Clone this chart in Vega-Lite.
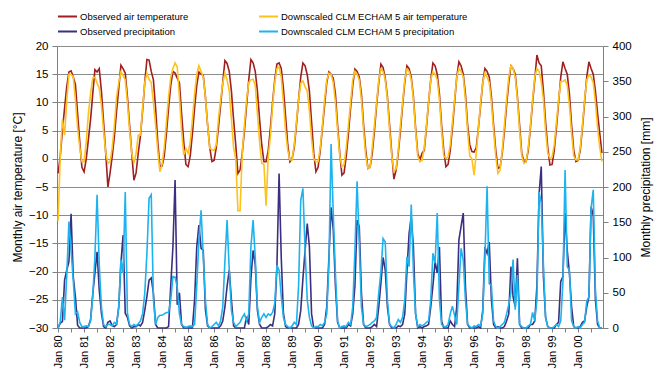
{
  "$schema": "https://vega.github.io/schema/vega-lite/v6.json",
  "width": 546,
  "height": 282,
  "autosize": {"type": "none"},
  "padding": {"left": 57, "top": 46, "right": 60, "bottom": 44},
  "background": "white",
  "config": {
    "font": "Liberation Sans",
    "view": {"stroke": null},
    "axis": {"labelColor": "#000000", "titleColor": "#000000", "titleFontWeight": "normal", "domainColor": "#808080", "tickColor": "#808080", "labelFont": "Liberation Sans", "titleFont": "Liberation Sans"},
    "legend": {"orient": "none", "legendX": 0, "legendY": -40, "direction": "horizontal", "columns": 2, "columnPadding": 66, "rowPadding": -5, "symbolType": "stroke", "symbolSize": 361, "symbolStrokeWidth": 2, "labelFontSize": 9.5, "labelOffset": 2, "labelLimit": 400, "labelFont": "Liberation Sans", "labelColor": "#000000", "title": null, "padding": 0}
  },
  "data": {"values": [
{"m":"Jan 80","ot":-2.6,"dt":-11,"op":0,"dp":0},{"m":"Feb 80","ot":0.5,"dt":0.5,"op":7,"dp":9},{"m":"Mar 80","ot":5,"dt":7,"op":9,"dp":44},{"m":"Apr 80","ot":9,"dt":4.2,"op":68,"dp":11},{"m":"May 80","ot":12.8,"dt":10.4,"op":82,"dp":75},{"m":"Jun 80","ot":15.4,"dt":15,"op":94,"dp":151},{"m":"Jul 80","ot":15.6,"dt":15,"op":162,"dp":110},{"m":"Aug 80","ot":14.5,"dt":14.5,"op":73,"dp":68},{"m":"Sep 80","ot":13.2,"dt":10.5,"op":44,"dp":20},{"m":"Oct 80","ot":8,"dt":5.5,"op":4,"dp":23},{"m":"Nov 80","ot":3,"dt":2,"op":0,"dp":8},{"m":"Dec 80","ot":-1.5,"dt":-0.5,"op":0,"dp":2},
{"m":"Jan 81","ot":-2.3,"dt":-0.5,"op":0,"dp":2},{"m":"Feb 81","ot":0,"dt":3,"op":0,"dp":3},{"m":"Mar 81","ot":3.5,"dt":8,"op":2,"dp":2},{"m":"Apr 81","ot":7,"dt":11.6,"op":12,"dp":10},{"m":"May 81","ot":11.5,"dt":14.3,"op":48,"dp":45},{"m":"Jun 81","ot":15.8,"dt":14.5,"op":78,"dp":101},{"m":"Jul 81","ot":15.4,"dt":13.4,"op":108,"dp":189},{"m":"Aug 81","ot":16,"dt":12.5,"op":54,"dp":90},{"m":"Sep 81","ot":12,"dt":9.5,"op":21,"dp":30},{"m":"Oct 81","ot":6.5,"dt":5,"op":2,"dp":5},{"m":"Nov 81","ot":1,"dt":1,"op":0,"dp":2},{"m":"Dec 81","ot":-5,"dt":-0.8,"op":8,"dp":5},
{"m":"Jan 82","ot":-2.5,"dt":-0.5,"op":10,"dp":5},{"m":"Feb 82","ot":0.5,"dt":2,"op":3,"dp":3},{"m":"Mar 82","ot":4,"dt":6,"op":2,"dp":8},{"m":"Apr 82","ot":8.5,"dt":11,"op":5,"dp":6},{"m":"May 82","ot":12.5,"dt":13.5,"op":30,"dp":30},{"m":"Jun 82","ot":16.6,"dt":15.4,"op":92,"dp":97},{"m":"Jul 82","ot":16,"dt":14.8,"op":132,"dp":78},{"m":"Aug 82","ot":15.2,"dt":14,"op":21,"dp":193},{"m":"Sep 82","ot":11,"dt":10,"op":15,"dp":21},{"m":"Oct 82","ot":6,"dt":5,"op":3,"dp":5},{"m":"Nov 82","ot":1,"dt":1,"op":0,"dp":2},{"m":"Dec 82","ot":-3.8,"dt":-0.8,"op":2,"dp":5},
{"m":"Jan 83","ot":-2.5,"dt":1,"op":2,"dp":3},{"m":"Feb 83","ot":1,"dt":4.2,"op":5,"dp":6},{"m":"Mar 83","ot":4,"dt":4.2,"op":3,"dp":10},{"m":"Apr 83","ot":8.5,"dt":9,"op":8,"dp":20},{"m":"May 83","ot":13.5,"dt":13.5,"op":25,"dp":49},{"m":"Jun 83","ot":17.6,"dt":15.2,"op":45,"dp":106},{"m":"Jul 83","ot":17.5,"dt":14.1,"op":68,"dp":184},{"m":"Aug 83","ot":15.5,"dt":13.5,"op":71,"dp":189},{"m":"Sep 83","ot":14,"dt":10,"op":49,"dp":40},{"m":"Oct 83","ot":9,"dt":6,"op":5,"dp":5},{"m":"Nov 83","ot":3,"dt":1.5,"op":0,"dp":15},{"m":"Dec 83","ot":-1.4,"dt":-2.3,"op":0,"dp":18},
{"m":"Jan 84","ot":-1.3,"dt":-1,"op":0,"dp":18},{"m":"Feb 84","ot":0.5,"dt":2,"op":0,"dp":20},{"m":"Mar 84","ot":4.5,"dt":6.5,"op":0,"dp":22},{"m":"Apr 84","ot":9,"dt":11,"op":2,"dp":22},{"m":"May 84","ot":13,"dt":14.5,"op":60,"dp":40},{"m":"Jun 84","ot":15.5,"dt":16,"op":115,"dp":73},{"m":"Jul 84","ot":15.2,"dt":17,"op":210,"dp":72},{"m":"Aug 84","ot":14.3,"dt":16.3,"op":33,"dp":58},{"m":"Sep 84","ot":13.5,"dt":11,"op":50,"dp":20},{"m":"Oct 84","ot":8,"dt":5,"op":5,"dp":5},{"m":"Nov 84","ot":3,"dt":0.7,"op":0,"dp":2},{"m":"Dec 84","ot":-1,"dt":1.8,"op":0,"dp":1},
{"m":"Jan 85","ot":-1.4,"dt":1,"op":0,"dp":2},{"m":"Feb 85","ot":0.5,"dt":3,"op":0,"dp":3},{"m":"Mar 85","ot":4.5,"dt":7,"op":0,"dp":2},{"m":"Apr 85","ot":9,"dt":11.5,"op":40,"dp":5},{"m":"May 85","ot":13,"dt":15,"op":115,"dp":60},{"m":"Jun 85","ot":15.4,"dt":16.5,"op":146,"dp":125},{"m":"Jul 85","ot":15,"dt":15.5,"op":113,"dp":167},{"m":"Aug 85","ot":14.8,"dt":14.5,"op":110,"dp":101},{"m":"Sep 85","ot":11,"dt":11,"op":26,"dp":40},{"m":"Oct 85","ot":6,"dt":6,"op":3,"dp":5},{"m":"Nov 85","ot":2,"dt":1.9,"op":0,"dp":0},{"m":"Dec 85","ot":-0.5,"dt":1.6,"op":0,"dp":2},
{"m":"Jan 86","ot":-0.3,"dt":1.5,"op":0,"dp":5},{"m":"Feb 86","ot":2,"dt":2.5,"op":0,"dp":8},{"m":"Mar 86","ot":5.5,"dt":7,"op":0,"dp":3},{"m":"Apr 86","ot":9.5,"dt":10.4,"op":3,"dp":10},{"m":"May 86","ot":13.5,"dt":13.4,"op":10,"dp":30},{"m":"Jun 86","ot":17.4,"dt":15.2,"op":30,"dp":95},{"m":"Jul 86","ot":16.9,"dt":14,"op":59,"dp":153},{"m":"Aug 86","ot":15.5,"dt":12,"op":82,"dp":82},{"m":"Sep 86","ot":12,"dt":7,"op":40,"dp":25},{"m":"Oct 86","ot":7,"dt":2,"op":3,"dp":8},{"m":"Nov 86","ot":2.5,"dt":0,"op":0,"dp":2},{"m":"Dec 86","ot":-2.6,"dt":-9.2,"op":0,"dp":5},
{"m":"Jan 87","ot":-2,"dt":-9.2,"op":0,"dp":8},{"m":"Feb 87","ot":1,"dt":1,"op":0,"dp":15},{"m":"Mar 87","ot":5,"dt":6,"op":0,"dp":20},{"m":"Apr 87","ot":9.5,"dt":10.5,"op":16,"dp":10},{"m":"May 87","ot":14,"dt":13.5,"op":5,"dp":20},{"m":"Jun 87","ot":17.6,"dt":14,"op":70,"dp":115},{"m":"Jul 87","ot":17,"dt":14.1,"op":110,"dp":153},{"m":"Aug 87","ot":15.5,"dt":13,"op":90,"dp":100},{"m":"Sep 87","ot":12,"dt":8,"op":25,"dp":30},{"m":"Oct 87","ot":7,"dt":3,"op":5,"dp":8},{"m":"Nov 87","ot":2.5,"dt":-0.8,"op":0,"dp":15},{"m":"Dec 87","ot":-0.5,"dt":-1,"op":0,"dp":20},
{"m":"Jan 88","ot":-0.5,"dt":-8.3,"op":0,"dp":15},{"m":"Feb 88","ot":1.5,"dt":0.5,"op":2,"dp":20},{"m":"Mar 88","ot":5.5,"dt":4,"op":5,"dp":18},{"m":"Apr 88","ot":10,"dt":9.5,"op":3,"dp":22},{"m":"May 88","ot":14,"dt":13.5,"op":20,"dp":35},{"m":"Jun 88","ot":16.8,"dt":16,"op":87,"dp":89},{"m":"Jul 88","ot":17,"dt":16.3,"op":219,"dp":82},{"m":"Aug 88","ot":16,"dt":14.5,"op":100,"dp":45},{"m":"Sep 88","ot":12.5,"dt":10,"op":21,"dp":15},{"m":"Oct 88","ot":7.5,"dt":5,"op":2,"dp":5},{"m":"Nov 88","ot":2.5,"dt":1.5,"op":0,"dp":2},{"m":"Dec 88","ot":-0.5,"dt":-0.2,"op":0,"dp":0},
{"m":"Jan 89","ot":0,"dt":-0.2,"op":0,"dp":3},{"m":"Feb 89","ot":2,"dt":2.5,"op":0,"dp":8},{"m":"Mar 89","ot":6,"dt":6.5,"op":0,"dp":5},{"m":"Apr 89","ot":10.5,"dt":10.5,"op":5,"dp":60},{"m":"May 89","ot":14.5,"dt":13.4,"op":25,"dp":181},{"m":"Jun 89","ot":17,"dt":13.8,"op":70,"dp":198},{"m":"Jul 89","ot":16.5,"dt":12.8,"op":110,"dp":110},{"m":"Aug 89","ot":14.9,"dt":12,"op":148,"dp":40},{"m":"Sep 89","ot":12,"dt":8.5,"op":115,"dp":15},{"m":"Oct 89","ot":6.5,"dt":3.5,"op":20,"dp":3},{"m":"Nov 89","ot":1,"dt":0,"op":0,"dp":0},{"m":"Dec 89","ot":-2.3,"dt":-0.5,"op":0,"dp":2},
{"m":"Jan 90","ot":-1.5,"dt":-0.5,"op":0,"dp":2},{"m":"Feb 90","ot":1.5,"dt":2,"op":0,"dp":5},{"m":"Mar 90","ot":5.5,"dt":6,"op":0,"dp":3},{"m":"Apr 90","ot":9.5,"dt":10.5,"op":5,"dp":8},{"m":"May 90","ot":13.5,"dt":14,"op":30,"dp":20},{"m":"Jun 90","ot":15.4,"dt":15.2,"op":100,"dp":90},{"m":"Jul 90","ot":15,"dt":15,"op":171,"dp":261},{"m":"Aug 90","ot":14.3,"dt":13.5,"op":140,"dp":163},{"m":"Sep 90","ot":11.5,"dt":10,"op":60,"dp":78},{"m":"Oct 90","ot":6,"dt":5,"op":8,"dp":10},{"m":"Nov 90","ot":1,"dt":0.5,"op":0,"dp":0},{"m":"Dec 90","ot":-2.9,"dt":-1.4,"op":0,"dp":2},
{"m":"Jan 91","ot":-2.5,"dt":-1,"op":0,"dp":3},{"m":"Feb 91","ot":0.5,"dt":2,"op":0,"dp":2},{"m":"Mar 91","ot":4.5,"dt":6,"op":5,"dp":8},{"m":"Apr 91","ot":9,"dt":10,"op":3,"dp":5},{"m":"May 91","ot":13,"dt":14,"op":20,"dp":30},{"m":"Jun 91","ot":15.9,"dt":15.5,"op":60,"dp":110},{"m":"Jul 91","ot":15.5,"dt":15,"op":153,"dp":208},{"m":"Aug 91","ot":14.5,"dt":14,"op":144,"dp":120},{"m":"Sep 91","ot":11.5,"dt":10.5,"op":50,"dp":30},{"m":"Oct 91","ot":6,"dt":5,"op":5,"dp":5},{"m":"Nov 91","ot":1.5,"dt":0.5,"op":0,"dp":2},{"m":"Dec 91","ot":-1.7,"dt":-1.7,"op":0,"dp":3},
{"m":"Jan 92","ot":-1.5,"dt":-1.5,"op":0,"dp":5},{"m":"Feb 92","ot":1,"dt":2,"op":2,"dp":8},{"m":"Mar 92","ot":5,"dt":6,"op":5,"dp":10},{"m":"Apr 92","ot":9.5,"dt":10,"op":2,"dp":15},{"m":"May 92","ot":13.5,"dt":14,"op":30,"dp":50},{"m":"Jun 92","ot":16.8,"dt":15.9,"op":64,"dp":80},{"m":"Jul 92","ot":16.2,"dt":15.5,"op":100,"dp":127},{"m":"Aug 92","ot":14.3,"dt":14,"op":82,"dp":122},{"m":"Sep 92","ot":11,"dt":10.5,"op":30,"dp":40},{"m":"Oct 92","ot":6,"dt":5,"op":5,"dp":5},{"m":"Nov 92","ot":1,"dt":0.5,"op":0,"dp":2},{"m":"Dec 92","ot":-3.6,"dt":-2.3,"op":0,"dp":0},
{"m":"Jan 93","ot":-2,"dt":-1.8,"op":0,"dp":5},{"m":"Feb 93","ot":1,"dt":1.5,"op":3,"dp":12},{"m":"Mar 93","ot":5,"dt":6,"op":2,"dp":8},{"m":"Apr 93","ot":9.5,"dt":10,"op":5,"dp":15},{"m":"May 93","ot":13.5,"dt":14,"op":20,"dp":40},{"m":"Jun 93","ot":16.5,"dt":15.9,"op":80,"dp":101},{"m":"Jul 93","ot":16,"dt":15.5,"op":134,"dp":87},{"m":"Aug 93","ot":14.5,"dt":14,"op":158,"dp":175},{"m":"Sep 93","ot":11,"dt":10.5,"op":115,"dp":80},{"m":"Oct 93","ot":5.5,"dt":5,"op":20,"dp":20},{"m":"Nov 93","ot":1,"dt":0.5,"op":0,"dp":2},{"m":"Dec 93","ot":-0.2,"dt":-0.5,"op":2,"dp":5},
{"m":"Jan 94","ot":1,"dt":-0.3,"op":0,"dp":3},{"m":"Feb 94","ot":1.5,"dt":2,"op":2,"dp":5},{"m":"Mar 94","ot":5.5,"dt":6,"op":3,"dp":8},{"m":"Apr 94","ot":10,"dt":10,"op":5,"dp":10},{"m":"May 94","ot":14,"dt":14,"op":30,"dp":40},{"m":"Jun 94","ot":17,"dt":15.4,"op":60,"dp":106},{"m":"Jul 94","ot":16.5,"dt":15,"op":94,"dp":92},{"m":"Aug 94","ot":15,"dt":14,"op":78,"dp":163},{"m":"Sep 94","ot":11.5,"dt":10.5,"op":115,"dp":40},{"m":"Oct 94","ot":6,"dt":5,"op":10,"dp":5},{"m":"Nov 94","ot":1.5,"dt":0.5,"op":0,"dp":2},{"m":"Dec 94","ot":-1.4,"dt":0.1,"op":0,"dp":2},
{"m":"Jan 95","ot":-1,"dt":0.3,"op":0,"dp":5},{"m":"Feb 95","ot":1.5,"dt":2.5,"op":10,"dp":20},{"m":"Mar 95","ot":5.5,"dt":6.5,"op":5,"dp":31},{"m":"Apr 95","ot":10,"dt":10.5,"op":2,"dp":18},{"m":"May 95","ot":14.5,"dt":14.5,"op":30,"dp":5},{"m":"Jun 95","ot":17.2,"dt":16,"op":125,"dp":60},{"m":"Jul 95","ot":16.5,"dt":15.5,"op":144,"dp":113},{"m":"Aug 95","ot":15,"dt":14.5,"op":163,"dp":96},{"m":"Sep 95","ot":11.5,"dt":10.5,"op":60,"dp":40},{"m":"Oct 95","ot":6,"dt":5,"op":5,"dp":5},{"m":"Nov 95","ot":2.5,"dt":0.5,"op":0,"dp":2},{"m":"Dec 95","ot":1.3,"dt":0,"op":0,"dp":0},
{"m":"Jan 96","ot":1.2,"dt":-2.9,"op":0,"dp":3},{"m":"Feb 96","ot":2,"dt":1,"op":0,"dp":2},{"m":"Mar 96","ot":5.5,"dt":5.5,"op":2,"dp":5},{"m":"Apr 96","ot":9.5,"dt":10,"op":0,"dp":3},{"m":"May 96","ot":13.5,"dt":13.5,"op":25,"dp":20},{"m":"Jun 96","ot":16,"dt":15.2,"op":115,"dp":101},{"m":"Jul 96","ot":15.5,"dt":14.5,"op":106,"dp":201},{"m":"Aug 96","ot":14.5,"dt":13.5,"op":122,"dp":63},{"m":"Sep 96","ot":11,"dt":10,"op":40,"dp":60},{"m":"Oct 96","ot":6,"dt":5,"op":5,"dp":10},{"m":"Nov 96","ot":1.5,"dt":0.5,"op":0,"dp":2},{"m":"Dec 96","ot":-1.7,"dt":-2.6,"op":2,"dp":0},
{"m":"Jan 97","ot":-1.5,"dt":-2,"op":0,"dp":2},{"m":"Feb 97","ot":1,"dt":1.5,"op":0,"dp":5},{"m":"Mar 97","ot":5,"dt":6,"op":2,"dp":8},{"m":"Apr 97","ot":9.5,"dt":10.5,"op":10,"dp":20},{"m":"May 97","ot":13.5,"dt":14.5,"op":20,"dp":33},{"m":"Jun 97","ot":16.5,"dt":16.5,"op":87,"dp":50},{"m":"Jul 97","ot":16,"dt":16,"op":44,"dp":97},{"m":"Aug 97","ot":15,"dt":14.5,"op":30,"dp":26},{"m":"Sep 97","ot":11,"dt":10.5,"op":99,"dp":75},{"m":"Oct 97","ot":6,"dt":5,"op":5,"dp":5},{"m":"Nov 97","ot":1,"dt":0.5,"op":0,"dp":2},{"m":"Dec 97","ot":-0.5,"dt":-0.8,"op":0,"dp":0},
{"m":"Jan 98","ot":-0.5,"dt":-0.5,"op":0,"dp":0},{"m":"Feb 98","ot":1.5,"dt":2,"op":0,"dp":3},{"m":"Mar 98","ot":5.5,"dt":6,"op":5,"dp":5},{"m":"Apr 98","ot":10,"dt":10.5,"op":5,"dp":22},{"m":"May 98","ot":14,"dt":14.5,"op":10,"dp":10},{"m":"Jun 98","ot":18.4,"dt":16,"op":60,"dp":40},{"m":"Jul 98","ot":17,"dt":15.5,"op":190,"dp":193},{"m":"Aug 98","ot":16.5,"dt":13.7,"op":229,"dp":177},{"m":"Sep 98","ot":12,"dt":10.5,"op":73,"dp":90},{"m":"Oct 98","ot":6.5,"dt":5,"op":15,"dp":15},{"m":"Nov 98","ot":2,"dt":1,"op":2,"dp":2},{"m":"Dec 98","ot":-1.1,"dt":0.1,"op":0,"dp":0},
{"m":"Jan 99","ot":-1,"dt":0.3,"op":0,"dp":0},{"m":"Feb 99","ot":1.5,"dt":2.5,"op":0,"dp":2},{"m":"Mar 99","ot":5.5,"dt":6.5,"op":5,"dp":5},{"m":"Apr 99","ot":10,"dt":10.5,"op":8,"dp":2},{"m":"May 99","ot":14.5,"dt":13.7,"op":66,"dp":10},{"m":"Jun 99","ot":17.2,"dt":13.7,"op":73,"dp":65},{"m":"Jul 99","ot":16,"dt":14,"op":163,"dp":224},{"m":"Aug 99","ot":15,"dt":13,"op":110,"dp":87},{"m":"Sep 99","ot":11.5,"dt":9.5,"op":78,"dp":82},{"m":"Oct 99","ot":6,"dt":4.5,"op":30,"dp":10},{"m":"Nov 99","ot":1.5,"dt":0.5,"op":2,"dp":2},{"m":"Dec 99","ot":-0.5,"dt":-0.2,"op":0,"dp":0},
{"m":"Jan 00","ot":-0.3,"dt":-0.2,"op":0,"dp":2},{"m":"Feb 00","ot":1.5,"dt":2,"op":2,"dp":0},{"m":"Mar 00","ot":5.5,"dt":6,"op":8,"dp":5},{"m":"Apr 00","ot":10,"dt":10.5,"op":10,"dp":8},{"m":"May 00","ot":14.5,"dt":14,"op":30,"dp":38},{"m":"Jun 00","ot":17.2,"dt":14.9,"op":44,"dp":44},{"m":"Jul 00","ot":16,"dt":14.5,"op":172,"dp":170},{"m":"Aug 00","ot":15,"dt":13.5,"op":160,"dp":196},{"m":"Sep 00","ot":12,"dt":10,"op":40,"dp":54},{"m":"Oct 00","ot":8,"dt":5.5,"op":5,"dp":10},{"m":"Nov 00","ot":4.5,"dt":2,"op":0,"dp":0},{"m":"Dec 00","ot":1,"dt":-0.5,"op":0,"dp":0}
  ]},
  "encoding": {
    "x": {
      "field": "m", "type": "ordinal", "sort": null,
      "scale": {"type": "point", "padding": 0.5},
      "axis": {
        "title": null, "grid": false, "labelAngle": -90, "labelFontSize": 11, "labelPadding": 3, "tickSize": 4, "labelOverlap": false,
        "values": ["Jan 80","Jul 80","Jan 81","Jul 81","Jan 82","Jul 82","Jan 83","Jul 83","Jan 84","Jul 84","Jan 85","Jul 85","Jan 86","Jul 86","Jan 87","Jul 87","Jan 88","Jul 88","Jan 89","Jul 89","Jan 90","Jul 90","Jan 91","Jul 91","Jan 92","Jul 92","Jan 93","Jul 93","Jan 94","Jul 94","Jan 95","Jul 95","Jan 96","Jul 96","Jan 97","Jul 97","Jan 98","Jul 98","Jan 99","Jul 99","Jan 00","Jul 00"],
        "labelExpr": "slice(datum.label, 0, 3) == 'Jan' ? datum.label : ''"
      }
    },
    "color": {
      "datum": "Observed air temperature", "type": "nominal",
      "scale": {
        "domain": ["Observed air temperature", "Downscaled CLM ECHAM 5 air temperature", "Observed precipitation", "Downscaled CLM ECHAM 5 precipitation"],
        "range": ["#a01f1f", "#ffc21a", "#3b2f80", "#1cb3ee"]
      }
    }
  },
  "layer": [
    {
      "layer": [
        {
          "mark": {"type": "line", "strokeWidth": 1.6},
          "encoding": {
            "y": {"field": "ot", "type": "quantitative", "scale": {"domain": [-30, 20], "nice": false, "zero": false},
              "axis": {"title": "Monthly air temperature [°C]", "titleFontSize": 12, "titlePadding": 4, "labelFontSize": 11.5, "labelPadding": 4, "tickSize": 5, "values": [-30,-25,-20,-15,-10,-5,0,5,10,15,20], "grid": true, "gridColor": "#8c8c8c"}},
            "color": {"datum": "Observed air temperature"}
          }
        },
        {
          "mark": {"type": "line", "strokeWidth": 1.6},
          "encoding": {
            "y": {"field": "dt", "type": "quantitative", "scale": {"domain": [-30, 20], "nice": false, "zero": false},
              "axis": {"title": "Monthly air temperature [°C]", "titleFontSize": 12, "titlePadding": 4, "labelFontSize": 11.5, "labelPadding": 4, "tickSize": 5, "values": [-30,-25,-20,-15,-10,-5,0,5,10,15,20], "grid": true, "gridColor": "#8c8c8c"}},
            "color": {"datum": "Downscaled CLM ECHAM 5 air temperature"}
          }
        }
      ]
    },
    {
      "layer": [
        {
          "mark": {"type": "line", "strokeWidth": 1.6},
          "encoding": {
            "y": {"field": "op", "type": "quantitative", "scale": {"domain": [0, 400], "nice": false},
              "axis": {"orient": "right", "title": "Monthly precipitation [mm]", "titleFontSize": 12, "titlePadding": 9, "titleAngle": 270, "titleBaseline": "top", "labelFontSize": 11.5, "labelPadding": 4, "tickSize": 5, "values": [0,50,100,150,200,250,300,350,400], "grid": false}},
            "color": {"datum": "Observed precipitation"}
          }
        },
        {
          "mark": {"type": "line", "strokeWidth": 1.6},
          "encoding": {
            "y": {"field": "dp", "type": "quantitative", "scale": {"domain": [0, 400], "nice": false},
              "axis": {"orient": "right", "title": "Monthly precipitation [mm]", "titleFontSize": 12, "titlePadding": 9, "titleAngle": 270, "titleBaseline": "top", "labelFontSize": 11.5, "labelPadding": 4, "tickSize": 5, "values": [0,50,100,150,200,250,300,350,400], "grid": false}},
            "color": {"datum": "Downscaled CLM ECHAM 5 precipitation"}
          }
        }
      ]
    }
  ],
  "resolve": {"scale": {"y": "independent"}}
}
